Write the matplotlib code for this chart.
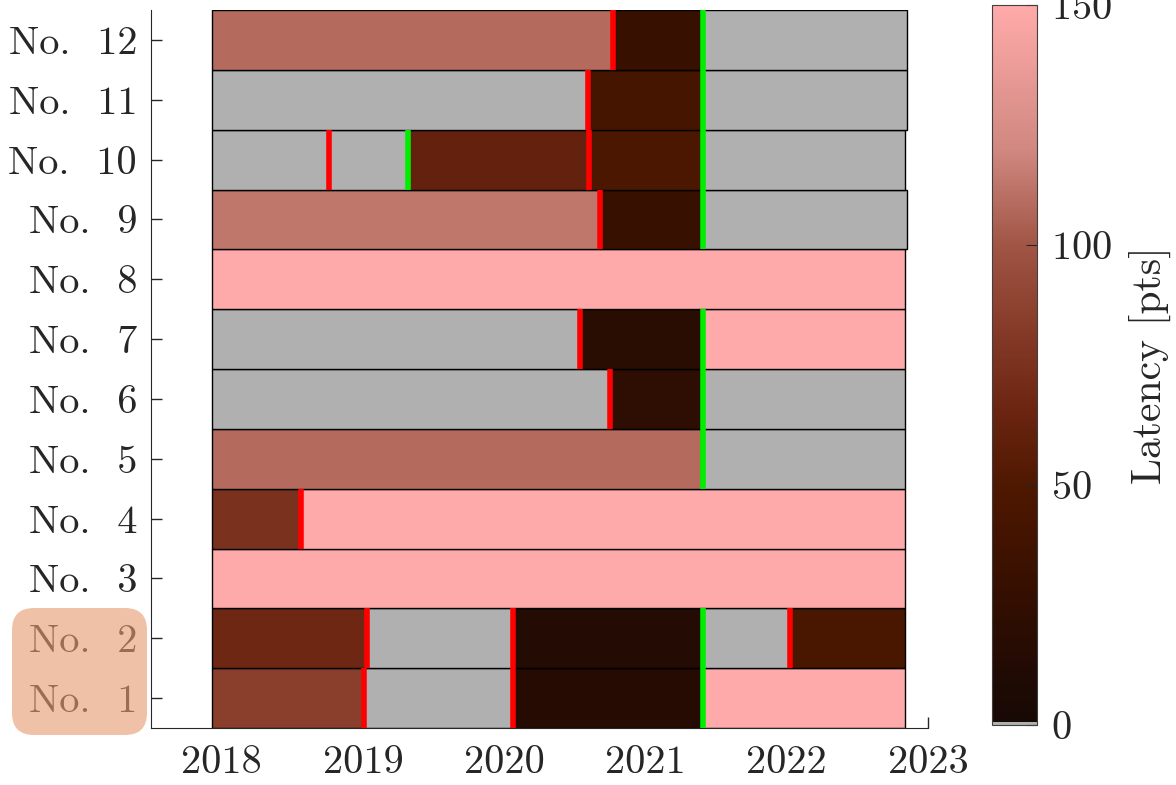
import numpy as np
import matplotlib
matplotlib.use("Agg")
import matplotlib.pyplot as plt
from matplotlib.colors import LinearSegmentedColormap, ListedColormap, Normalize
from matplotlib.patches import FancyBboxPatch
from matplotlib.transforms import IdentityTransform
from matplotlib.cm import ScalarMappable

plt.rcParams['font.family'] = ['cmr10', 'DejaVu Serif']
plt.rcParams['axes.formatter.use_mathtext'] = True

# rows, bottom to top
rows = ["No.  1", "No.  2", "No.  3", "No.  4", "No.  5", "No.  6",
        "No.  7", "No.  8", "No.  9", "No.  10", "No.  11", "No.  12"]

# segment edges (decimal years) and latency values per row, 0 = no data (gray)
seg_edges = [
    [2017.93, 2019.01, 2020.06, 2021.41, 2022.84],
    [2017.93, 2019.03, 2020.06, 2021.41, 2022.02, 2022.84],
    [2017.93, 2022.84],
    [2017.93, 2018.56, 2022.84],
    [2017.93, 2021.41, 2022.84],
    [2017.93, 2020.75, 2021.41, 2022.84],
    [2017.93, 2020.54, 2021.41, 2022.84],
    [2017.93, 2022.84],
    [2017.93, 2020.68, 2021.41, 2022.85],
    [2017.93, 2018.76, 2019.32, 2020.60, 2021.41, 2022.84],
    [2017.93, 2020.59, 2021.41, 2022.85],
    [2017.93, 2020.77, 2021.41, 2022.85],
]
seg_vals = [
    [85, 0, 15, 150],
    [67, 0, 14, 0, 45],
    [150],
    [75, 150],
    [108, 0],
    [0, 22, 0],
    [0, 18, 150],
    [150],
    [113, 30, 0],
    [0, 0, 62, 48, 0],
    [0, 42, 0],
    [108, 30, 0],
]
red_marks = [
    [2019.01, 2020.06],
    [2019.03, 2020.06, 2022.02],
    [],
    [2018.56],
    [],
    [2020.75],
    [2020.54],
    [],
    [2020.68],
    [2018.76, 2020.60],
    [2020.59],
    [2020.77],
]
green_marks = [
    [2021.41], [2021.41], [], [], [2021.41], [2021.41],
    [2021.41], [], [2021.41], [2019.32, 2021.41], [2021.41], [2021.41],
]
years = [2018, 2019, 2020, 2021, 2022, 2023]
cbar_ticks = [0, 50, 100, 150]

# colormap: dark brown -> pink, with gray at the very bottom for missing data
anchors = [(0.0, "#170904"), (0.067, "#200a04"), (0.2, "#381000"),
           (0.333, "#4f1800"), (0.433, "#6a2410"), (0.567, "#8a3e2c"),
           (0.667, "#a05545"), (0.8, "#d08880"), (1.0, "#ffaaaa")]
base = LinearSegmentedColormap.from_list("lat", anchors, N=256)
cols = base(np.linspace(0, 1, 256))
cols[0] = [0.69, 0.69, 0.69, 1.0]
cmap = ListedColormap(cols)
norm = Normalize(0, 150)

fig = plt.figure(figsize=(11.76, 7.85), dpi=100)
ax = fig.add_axes([151/1176, 57/785, 777/1176, 718/785])

for i in range(len(rows)):
    y = i + 1
    e = seg_edges[i]
    for k, v in enumerate(seg_vals[i]):
        ax.barh(y, e[k+1] - e[k], left=e[k], height=1.0,
                color=cmap(norm(v)), edgecolor='k', linewidth=1.0, zorder=2)
    for x in red_marks[i]:
        ax.plot([x, x], [y - 0.5, y + 0.5], color='#ff0000', lw=4, zorder=3,
                solid_capstyle='butt')
    for x in green_marks[i]:
        ax.plot([x, x], [y - 0.5, y + 0.5], color='#00ee00', lw=4, zorder=3,
                solid_capstyle='butt')

ax.set_xlim(2017.5, 2023)
ax.set_ylim(0.5, 12.5)
ax.set_axisbelow(True)
ax.set_xticks(years)
ax.set_xticklabels([str(y) for y in years])
ax.set_yticks(range(1, len(rows) + 1))
ax.set_yticklabels(rows)
ax.tick_params(axis='both', direction='in', labelsize=29, length=8, width=1,
               color='#262626', labelcolor='#262626')
ax.tick_params(axis='x', pad=12)
ax.tick_params(axis='y', pad=10)
ax.spines['top'].set_visible(False)
ax.spines['right'].set_visible(False)
ax.spines['left'].set_color('#262626')
ax.spines['bottom'].set_color('#262626')

# colorbar
cax = fig.add_axes([992/1176, 60/785, 45/1176, 720/785])
sm = ScalarMappable(norm=norm, cmap=cmap)
cb = fig.colorbar(sm, cax=cax, ticks=cbar_ticks)
cb.ax.tick_params(direction='in', labelsize=29, length=8, color='#262626',
                  labelcolor='#262626', pad=10)
cb.outline.set_edgecolor('#404040')
cb.set_label("Latency [pts]", fontsize=30, color='#262626', labelpad=12)

# highlight box over the first two labels
box = FancyBboxPatch((12, 50), 135, 127, boxstyle="round,pad=0,rounding_size=22",
                     transform=IdentityTransform(), facecolor=(0.9, 0.61, 0.44),
                     edgecolor='none', alpha=0.61, zorder=5)
fig.add_artist(box)

fig.savefig("out.png", dpi=100)
